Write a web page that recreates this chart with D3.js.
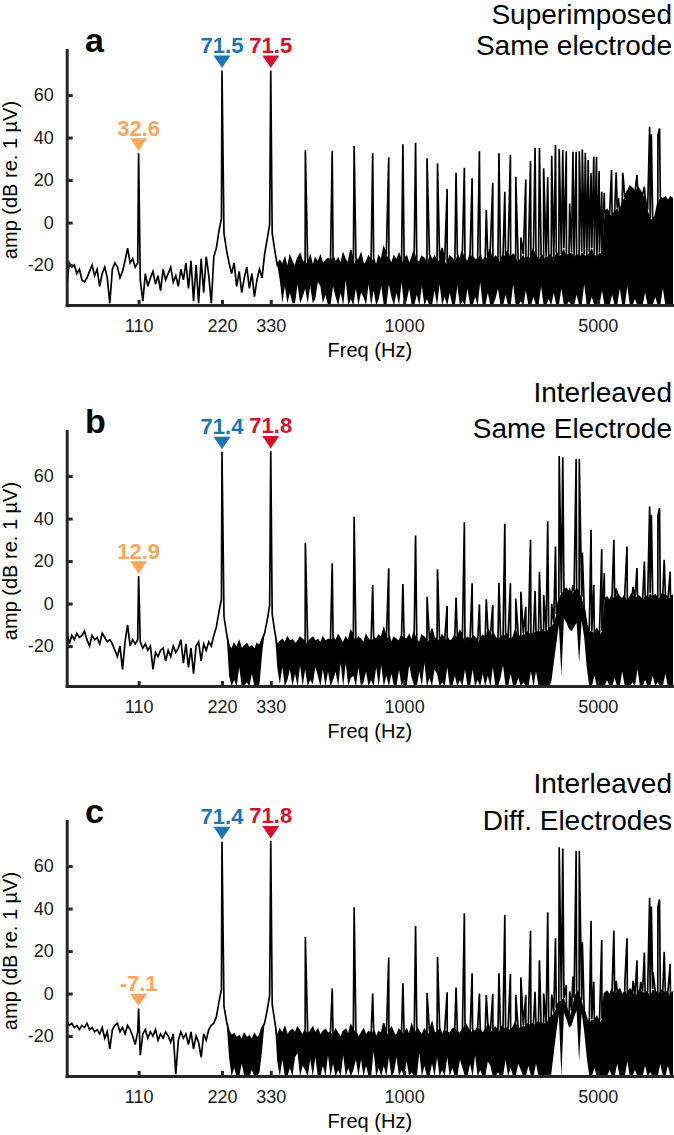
<!DOCTYPE html>
<html>
<head>
<meta charset="utf-8">
<script src="https://cdn.jsdelivr.net/npm/d3@7"></script>
<style>
  body { margin: 0; background: #fff; }
  svg text { font-family: "Liberation Sans", Arial, Helvetica, sans-serif; }
</style>
</head>
<body>
<div id="chart"></div>
<script>
// ---- data ----------------------------------------------------------------
// spectrum is sampled on a log grid of nBins points between freqMin and freqMax
const freqMin = 60.5, freqMax = 9350, nBins = 240;
// from floorStart on the noise is dense, so we keep its lower envelope too
// (min/max per display bin)
const floorStart = 63;

const xTicks = [110, 220, 330, 1000, 5000];
const yTicks = [-20, 0, 20, 40, 60];
const markerFreqs = [110, 220, 330];
const markerColors = ["#f9a65a", "#1a75b5", "#d0122d"];

// upper trace (dB re. 1 uV), one value per bin
const noiseA = [
  -30,-19,-21,-20,-24,-22,-27,-28,-26,-23,
  -20,-25,-22,-30,-24,-21,-26,-38,-22,-19,
  -21,-26,-23,-18,-12,-19,-17,-21,-19,-27,
  -37,-24,-30,-26,-23,-29,-25,-32,-22,-27,
  -24,-21,-28,-25,-30,-22,-27,-19,-31,-18,
  -37,-20,-38,-17,-33,-16,-25,-38,-16,-12,
  -4,2,-5,-13,-19,-24,-19,-30,-23,-33,
  -26,-21,-31,-24,-35,-27,-22,-26,-15,-8,
  -1,-5,-13,-20,-18,-20,-17,-22,-16,-19,
  -21,-17,-15,-19,-18,-20,-16,-21,-17,-19,
  -16,-20,-18,-17,-18,-16,-19,-17,-20,-15,
  -18,-19,-13,-21,-17,-18,-15,-20,-19,-16,
  -18,-17,-21,-16,-18,-12,-15,-17,-20,-16,
  -18,-15,-19,-17,-16,-20,-17,-13,-18,-19,
  -16,-17,-20,-15,-18,-16,-19,-17,-12,-18,
  -20,-16,-17,-19,-15,-18,-13,-17,-19,-15,
  -16,-18,-17,-15,-19,-16,-17,-12,-18,-16,
  -17,-19,-15,-16,-13,-17,-15,-16,-19,-17,
  -15,-18,-16,-17,-12,-16,-18,-15,-17,-16,
  -16,-15,-17,-14,-16,-15,-12,-16,-15,-14,
  -16,-15,-17,-14,-15,-16,-14,-12,-15,-16,
  -14,-15,5,6,4,3,5,7,4,10,
  12,14,17,16,14,17,15,13,12,6,
  2,1,3,9,12,11,12,10,12,11
];
// lower envelope from floorStart on
const floorA = [
  -13,-19,-24,-19,-30,-23,-33,
  -26,-21,-31,-24,-35,-27,-22,-26,-15,-8,
  -1,-5,-13,-20,-27,-38,-30,-38,-33,-38,
  -38,-29,-38,-35,-31,-38,-30,-38,-36,-28,
  -30,-38,-34,-39,-39,-30,-35,-39,-33,-39,
  -27,-39,-36,-39,-31,-39,-33,-35,-39,-29,
  -39,-32,-39,-36,-30,-39,-39,-29,-35,-39,
  -33,-39,-28,-39,-37,-31,-39,-39,-34,-39,
  -30,-39,-36,-39,-39,-32,-39,-29,-39,-35,
  -39,-33,-39,-39,-30,-39,-37,-39,-31,-39,
  -39,-35,-39,-28,-39,-39,-33,-39,-39,-36,
  -31,-39,-39,-34,-39,-39,-29,-39,-39,-37,
  -39,-32,-39,-39,-35,-39,-39,-30,-39,-39,
  -36,-39,-33,-39,-39,-31,-39,-39,-37,-39,
  -39,-34,-39,-39,-29,-39,-39,-35,-39,-39,
  -39,-32,-39,-39,-39,-34,-39,-39,-31,-39,
  -39,-30,-39,-39,-36,-39,-39,-39,-33,-39,
  -39,-39,-35,-39,-39,-31,-39,-39,-39,-39
];
// harmonic peaks [Hz, dB]
const peaksA = [
  [110,32.6],[220,71.5],[330,71.5],[440,34.0],[550,33.8],[660,36.0],[770,32.6],[880,30.7],
  [990,36.9],[1100,37.6],[1210,30.2],[1320,27.9],[1430,15.8],[1540,23.4],[1650,25.8],
  [1760,20.8],[1870,33.6],[1980,5.9],[2090,18.7],[2200,32.6],[2310,14.5],[2420,31.8],
  [2530,21.6],[2640,-7.0],[2750,20.3],[2860,28.9],[2970,35.2],[3080,35.2],[3190,25.5],
  [3300,21.3],[3410,31.4],[3520,36.5],[3630,34.6],[3740,34.1],[3850,33.6],[3960,9.0],
  [4070,33.3],[4180,33.3],[4290,33.6],[4400,34.4],[4510,32.9],[4620,29.4],[4730,23.2],
  [4840,31.0],[4950,31.0],[5060,24.4],[5170,14.5],[5280,14.0],[5610,24.7],[5830,23.6],
  [5940,11.5],[6160,23.4],[6380,14.5],[6930,22.4],[7370,16.9],[7700,45.1],[7810,41.6],
  [8250,41.2],[8360,44.3]
];

const noiseB = [
  -12,-19,-15,-17,-14,-16,-15,-13,-17,-20,
  -15,-17,-16,-19,-14,-16,-18,-17,-19,-22,
  -25,-20,-31,-18,-10,-20,-17,-19,-17,-18,
  -21,-19,-22,-20,-31,-23,-25,-22,-21,-27,
  -22,-25,-20,-23,-21,-17,-28,-19,-30,-21,
  -33,-20,-18,-27,-19,-22,-18,-20,-15,-11,
  -4,2,-6,-14,-20,-22,-19,-21,-18,-22,
  -20,-19,-21,-20,-22,-19,-20,-17,-14,-8,
  -1,-5,-13,-20,-18,-17,-19,-16,-18,-17,
  -19,-18,-16,-17,-18,-19,-17,-16,-18,-17,
  -19,-16,-18,-17,-17,-16,-18,-15,-17,-19,
  -16,-18,-13,-15,-18,-16,-17,-19,-15,-17,
  -18,-16,-17,-15,-16,-12,-17,-15,-19,-16,
  -17,-18,-15,-16,-17,-15,-18,-13,-17,-19,
  -15,-16,-18,-17,-12,-17,-16,-18,-15,-17,
  -16,-18,-17,-15,-16,-13,-15,-18,-16,-17,
  -15,-16,-18,-17,-15,-16,-12,-15,-14,-16,
  -17,-15,-16,-14,-15,-17,-16,-12,-15,-16,
  -14,-15,-13,-15,-14,-13,-14,-12,-13,-13,
  -12,-11,-9,-5,2,5,6,7,5,4,
  6,7,5,3,-2,-10,-13,-13,-14,-12,
  -15,-13,2,3,1,4,2,5,3,2,
  4,1,3,5,2,4,3,1,4,2,
  5,3,4,2,3,5,4,2,3,4
];
const floorB = [
  -14,-34,-39,-36,-39,-30,-39,
  -39,-37,-39,-33,-39,-39,-38,-24,-14,-8,
  -1,-5,-13,-30,-38,-30,-39,-36,-31,-39,
  -33,-39,-29,-39,-31,-39,-36,-38,-30,-34,
  -39,-31,-39,-32,-39,-36,-32,-39,-28,-39,
  -28,-39,-35,-34,-39,-30,-39,-37,-32,-39,
  -36,-39,-30,-39,-29,-39,-34,-39,-33,-39,
  -39,-31,-39,-36,-39,-29,-35,-39,-39,-32,
  -39,-28,-39,-35,-39,-31,-33,-39,-37,-39,
  -30,-39,-39,-34,-39,-36,-39,-31,-39,-39,
  -31,-39,-36,-39,-33,-39,-34,-39,-30,-39,
  -39,-35,-29,-39,-39,-33,-39,-39,-35,-39,
  -37,-39,-39,-32,-39,-32,-39,-39,-39,-39,
  -39,-37,-28,-19,-10,-34,-7,-9,-12,-13,
  -11,-9,-28,-8,-16,-30,-39,-39,-34,-39,
  -39,-39,-39,-36,-39,-39,-35,-39,-39,-32,
  -39,-39,-39,-37,-39,-31,-39,-39,-36,-39,
  -39,-34,-39,-37,-39,-39,-33,-39,-39,-39
];
const peaksB = [
  [110,12.9],[220,71.4],[330,71.8],[440,28.6],[550,19.0],[660,40.9],[770,8.7],[880,16.6],
  [990,9.2],[1100,32.0],[1210,3.2],[1320,16.1],[1430,-1.2],[1540,2.7],[1650,38.3],
  [1760,9.5],[1870,-0.4],[1980,2.0],[2090,-0.7],[2200,9.8],[2310,37.5],[2420,9.5],
  [2530,2.4],[2640,5.5],[2750,-1.5],[2860,30.0],[2970,5.9],[3080,15.0],[3190,4.0],
  [3300,38.7],[3410,-0.1],[3520,26.8],[3630,69.4],[3740,68.8],[3850,7.1],[3960,6.4],
  [4070,8.7],[4180,68.0],[4290,68.0],[4400,24.0],[4730,34.7],[4840,8.7],[5170,25.6],
  [5280,14.2],[5720,30.0],[5830,7.0],[6270,6.4],[6380,26.8],[6710,7.9],[6930,16.7],
  [7370,19.8],[7700,45.7],[7810,41.8],[8250,41.3],[8360,44.9],[8690,20.6],[9130,15.0]
];

const noiseC = [
  -13,-15,-14,-16,-15,-17,-15,-16,-14,-17,
  -16,-18,-17,-19,-16,-21,-18,-26,-17,-15,
  -14,-18,-16,-19,-15,-17,-20,-24,-18,-29,
  -19,-17,-21,-18,-20,-17,-22,-19,-21,-18,
  -20,-23,-19,-38,-22,-18,-21,-19,-24,-18,
  -26,-20,-23,-30,-19,-22,-17,-15,-14,-11,
  -4,2,-6,-13,-18,-20,-19,-21,-20,-22,
  -19,-21,-20,-22,-19,-21,-20,-16,-14,-8,
  -1,-5,-13,-21,-17,-19,-16,-20,-18,-17,
  -19,-16,-18,-20,-17,-19,-18,-16,-19,-17,
  -20,-18,-17,-19,-18,-20,-17,-19,-21,-18,
  -17,-20,-15,-17,-18,-21,-19,-17,-20,-18,
  -19,-17,-21,-18,-19,-14,-20,-18,-16,-19,
  -20,-17,-18,-19,-17,-20,-15,-19,-16,-18,
  -20,-17,-19,-18,-14,-19,-18,-16,-20,-17,
  -18,-19,-17,-16,-18,-19,-17,-14,-16,-19,
  -17,-18,-16,-17,-19,-17,-14,-18,-17,-16,
  -18,-17,-15,-17,-16,-18,-16,-13,-17,-16,
  -15,-16,-14,-15,-14,-15,-13,-14,-14,-14,
  -12,-11,-9,-7,-4,-3,-2,-6,-12,-8,
  -2,1,0,-3,-8,-12,-14,-12,-13,-11,
  -14,-12,0,1,-1,2,0,1,2,-1,
  1,0,2,1,-1,0,2,1,0,1,
  -1,2,1,0,1,2,0,1,-1,1
];
const floorC = [
  -13,-30,-39,-35,-39,-39,-33,
  -39,-39,-39,-36,-39,-39,-37,-27,-14,-8,
  -1,-5,-13,-32,-39,-31,-39,-39,-35,-39,
  -30,-28,-39,-34,-36,-39,-31,-39,-30,-39,
  -39,-34,-39,-29,-39,-33,-39,-36,-39,-29,
  -39,-35,-39,-36,-31,-39,-31,-39,-34,-39,
  -39,-27,-39,-35,-39,-34,-39,-30,-39,-37,
  -30,-39,-36,-39,-32,-39,-37,-39,-39,-28,
  -39,-34,-39,-39,-33,-39,-30,-39,-36,-39,
  -30,-39,-35,-39,-39,-31,-35,-39,-39,-33,
  -39,-29,-39,-36,-39,-39,-32,-34,-39,-39,
  -37,-39,-39,-31,-39,-35,-39,-39,-33,-36,
  -39,-39,-34,-39,-39,-33,-39,-39,-39,-39,
  -39,-38,-28,-18,-10,-39,-9,-12,-16,-15,
  -11,-8,-32,-9,-18,-30,-39,-39,-35,-39,
  -39,-39,-39,-39,-36,-39,-39,-33,-39,-39,
  -39,-32,-39,-39,-36,-39,-39,-39,-34,-39,
  -37,-39,-39,-39,-33,-39,-39,-34,-39,-39
];
const peaksC = [
  [110,-7.1],[220,71.4],[330,71.8],[440,26.7],[550,2.4],[660,40.6],[770,0.0],[880,17.0],
  [990,4.8],[1100,31.8],[1210,0.4],[1320,17.3],[1430,0.6],[1540,2.8],[1650,37.8],
  [1760,9.5],[1870,0.0],[1980,-0.7],[2090,-0.2],[2200,9.5],[2310,37.0],[2420,9.2],
  [2530,-0.7],[2640,7.6],[2750,-0.7],[2860,29.6],[2970,0.8],[3080,15.7],[3190,0.0],
  [3300,38.2],[3410,-0.5],[3520,26.0],[3630,68.8],[3740,68.3],[3850,4.0],[3960,1.0],
  [4070,8.0],[4180,67.2],[4290,67.2],[4400,24.1],[4730,34.3],[4840,5.6],[5170,25.2],
  [5280,-0.7],[5720,29.6],[5830,6.0],[6270,6.0],[6380,26.0],[6710,6.0],[6930,15.7],
  [7150,5.5],[7370,19.3],[7700,45.1],[7810,40.9],[7920,10.0],[8250,40.9],[8360,44.3],
  [8690,19.6],[9130,14.0]
];

const panels = [
  { letter: "a", title: ["Superimposed", "Same electrode"], titleY: [24, 55],
    noise: noiseA, floor: floorA, peaks: peaksA, top: 0 },
  { letter: "b", title: ["Interleaved", "Same Electrode"], titleY: [21, 57],
    noise: noiseB, floor: floorB, peaks: peaksB, top: 381 },
  { letter: "c", title: ["Interleaved", "Diff. Electrodes"], titleY: [22, 59],
    noise: noiseC, floor: floorC, peaks: peaksC, top: 771 }
];

panels.forEach(p => {
  if (p.noise.length !== nBins || p.floor.length !== nBins - floorStart)
    throw new Error(`panel ${p.letter}: ${p.noise.length} / ${p.floor.length}`);
});

// ---- layout -------------------------------------------------------------
const width = 674, height = 1135;
const plot = { left: 66.7, right: 673, top: 50, bottom: 305 };
const axisColor = "#262626";

const svg = d3.select("#chart")
  .append("svg")
    .attr("width", width)
    .attr("height", height);

const x = d3.scaleLog()
  .domain([freqMin, freqMax])
  .range([plot.left, plot.right]);

const y = d3.scaleLinear()
  .domain([-38.8, 81.2])
  .range([plot.bottom, plot.top]);

// bin centre frequencies of the sampled trace
const binFreq = d3.range(nBins).map(i => freqMin * Math.pow(freqMax / freqMin, i / (nBins - 1)));

svg.append("defs").append("clipPath")
    .attr("id", "plotclip")
  .append("rect")
    .attr("x", plot.left)
    .attr("y", plot.top - 20)
    .attr("width", plot.right - plot.left)
    .attr("height", plot.bottom - plot.top + 20);

panels.forEach(p => {
  const g = svg.append("g").attr("transform", `translate(0,${p.top})`);
  const data = g.append("g").attr("clip-path", "url(#plotclip)");

  // dense noise band between lower envelope and upper trace
  const band = d3.range(floorStart, nBins).map(i => ({
    f: binFreq[i], lo: p.floor[i - floorStart], hi: p.noise[i]
  }));
  data.append("path")
    .datum(band)
    .attr("d", d3.area()
      .x(d => x(d.f))
      .y0(d => y(d.lo))
      .y1(d => y(d.hi)))
    .attr("fill", "#000");

  // spectrum line: noise bins plus the harmonic peaks
  const pts = binFreq.map((f, i) => ({ f: f, v: p.noise[i] }))
    .concat(p.peaks.map(d => ({ f: d[0], v: d[1] })))
    .sort((a, b) => a.f - b.f);
  data.append("path")
    .datum(pts)
    .attr("d", d3.line()
      .x(d => x(d.f))
      .y(d => y(d.v)))
    .attr("fill", "none")
    .attr("stroke", "#000")
    .attr("stroke-width", 1.7);

  // axes
  const yAxis = g.append("g")
    .attr("transform", `translate(${plot.left},0)`)
    .call(d3.axisLeft(y).tickValues(yTicks).tickSizeInner(-6).tickSizeOuter(0)
      .tickPadding(13).tickFormat(d => String(d)));
  const xAxis = g.append("g")
    .attr("transform", `translate(0,${plot.bottom})`)
    .call(d3.axisBottom(x).tickValues(xTicks).tickSizeInner(-5).tickSizeOuter(0)
      .tickPadding(14).tickFormat(d => String(d)));

  [yAxis, xAxis].forEach(a => {
    a.attr("font-family", null).attr("font-size", null);
    a.select(".domain")
      .attr("stroke", axisColor)
      .attr("stroke-width", 3)
      .attr("stroke-linecap", "square");
    a.selectAll(".tick line")
      .attr("stroke", axisColor)
      .attr("stroke-width", 3);
    a.selectAll(".tick text")
      .attr("fill", "#1a1a1a")
      .style("font-size", "18px");
  });

  g.append("text")
    .attr("x", (plot.left + plot.right) / 2)
    .attr("y", 357)
    .attr("text-anchor", "middle")
    .style("font-size", "20px")
    .text("Freq (Hz)");

  g.append("text")
    .attr("transform", "translate(17,180) rotate(-90)")
    .attr("text-anchor", "middle")
    .style("font-size", "20px")
    .text("amp (dB re. 1 µV)");

  // panel letter and title
  g.append("text")
    .attr("x", 85)
    .attr("y", plot.top + 2)
    .style("font-size", "34px")
    .style("font-weight", "bold")
    .text(p.letter);

  p.title.forEach((t, k) => {
    g.append("text")
      .attr("x", 672)
      .attr("y", p.titleY[k])
      .attr("text-anchor", "end")
      .style("font-size", "28px")
      .text(t);
  });

  // markers over the 110 / 220 / 330 Hz peaks
  markerFreqs.forEach((f, k) => {
    const v = p.peaks.find(d => d[0] === f)[1];
    const px = x(f), tip = y(v) - 2.5;
    g.append("path")
      .attr("d", `M${px - 8.5},${tip - 12.5}L${px + 8.5},${tip - 12.5}L${px},${tip}Z`)
      .attr("fill", markerColors[k]);
    g.append("text")
      .attr("x", px)
      .attr("y", tip - 15)
      .attr("text-anchor", "middle")
      .attr("fill", markerColors[k])
      .style("font-size", "22px")
      .style("font-weight", "bold")
      .text(v.toFixed(1));
  });
});
</script>
</body>
</html>
